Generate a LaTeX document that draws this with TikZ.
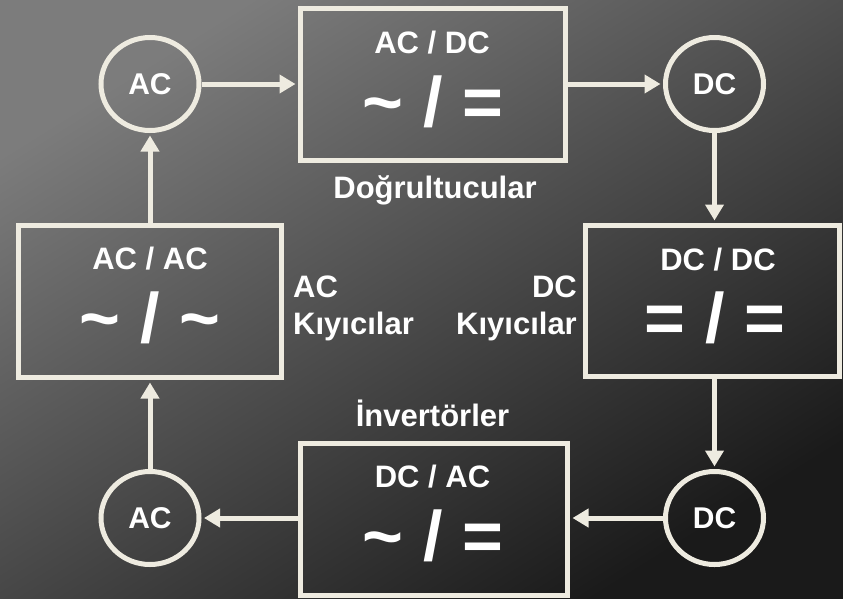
\documentclass[tikz,border=0pt]{standalone}
\usepackage{fontspec}
\setmainfont{Liberation Sans}
\usepackage{xcolor}
\usetikzlibrary{shapes,arrows.meta,positioning,calc}
\definecolor{bgtop}{RGB}{124,124,124}
\definecolor{bgbottom}{RGB}{26,26,26}
\definecolor{cream}{RGB}{238,235,224}

\begin{document}
\begin{tikzpicture}[x=1pt,y=-1pt,
  conv/.style={rectangle,draw=cream,line width=5pt,inner sep=0pt},
  port/.style={ellipse,draw=cream,line width=5pt,minimum width=98pt,minimum height=93pt,inner sep=0pt,text=white,font=\fontsize{30}{36}\selectfont\bfseries},
  title/.style={anchor=base,text=white,inner sep=0pt,font=\fontsize{31}{36}\selectfont\bfseries},
  symb/.style={anchor=base,text=white,inner sep=0pt,font=\fontsize{70}{80}\selectfont\bfseries},
  lbl/.style={text=white,inner sep=0pt,font=\fontsize{31}{37}\selectfont\bfseries},
  flow/.style={draw=cream,line width=5pt,-{Triangle[length=16pt,width=18pt]},shorten >=2.5pt}]

  % background
  \shade[top color=bgtop,bottom color=bgbottom,shading angle=32] (0,0) rectangle (843,598);
  \useasboundingbox (0,0) rectangle (843,598);

  \node[port] (acT) at (150,84) {AC};
  \node[port] (dcT) at (714.5,84) {DC};
  \node[port] (acB) at (150,518) {AC};
  \node[port] (dcB) at (714.5,518) {DC};

  \node[conv,minimum width=265pt,minimum height=152pt] (acdc) at (433,84.5) {};
  \node[title] (acdcT) at (432,53) {AC / DC};
  \node[symb] (acdcS) at (433,126) {\textasciitilde{} / =};

  \node[conv,minimum width=263pt,minimum height=152pt] (acac) at (150,301.5) {};
  \node[title] (acacT) at (150,269) {AC / AC};
  \node[symb] (acacS) at (150,342) {\textasciitilde{} / \textasciitilde};

  \node[conv,minimum width=254pt,minimum height=151pt] (dcdc) at (712.5,301) {};
  \node[title] (dcdcT) at (718,270) {DC / DC};
  \node[symb] (dcdcS) at (715,342) {= / =};

  \node[conv,minimum width=267pt,minimum height=152pt] (dcac) at (434,519) {};
  \node[title] (dcacT) at (432.5,487) {DC / AC};
  \node[symb] (dcacS) at (433,560) {\textasciitilde{} / =};

  % labels
  \node[lbl,anchor=base] (rectL) at (435,198) {Doğrultucular};
  \node[lbl,anchor=base] (invL) at (432.5,426) {İnvertörler};
  \node[lbl,align=left,anchor=base west] (acchopL) at (293,334) {AC\\Kıyıcılar};
  \node[lbl,align=right,anchor=base east] (dcchopL) at (577,334) {DC\\Kıyıcılar};

  % flow
  \draw[flow] (acT) -- (acT -| acdc.west);
  \draw[flow] (acdc.east |- dcT) -- (dcT);
  \draw[flow] (dcT) -- (dcT |- dcdc.north);
  \draw[flow] (dcdc.south -| dcB) -- (dcB);
  \draw[flow] (dcB) -- (dcB -| dcac.east);
  \draw[flow] (dcac.west |- acB) -- (acB);
  \draw[flow] (acB) -- (acB |- acac.south);
  \draw[flow] (acac.north -| acT) -- (acT);

\end{tikzpicture}
\end{document}
